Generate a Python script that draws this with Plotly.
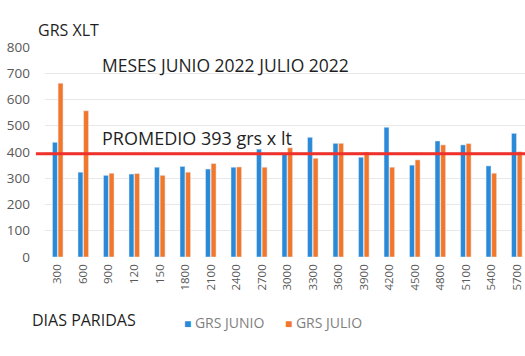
import plotly.graph_objects as go

categories = ["300", "600", "900", "120", "150", "1800", "2100", "2400", "2700", "3000",
              "3300", "3600", "3900", "4200", "4500", "4800", "5100", "5400", "5700"]
grs_junio = [437, 323, 311, 316, 342, 345, 335, 342, 411, 395,
             456, 433, 380, 494, 350, 442, 427, 347, 471]
grs_julio = [662, 557, 319, 318, 311, 323, 356, 343, 342, 416,
             376, 433, 400, 342, 370, 427, 432, 319, 401]
promedio = 393
y_ticks = [0, 100, 200, 300, 400, 500, 600, 700, 800]
series_names = ["GRS JUNIO", "GRS JULIO"]

BLUE = "#2A8AD8"
ORANGE = "#F3772B"
FONT = "Open Sans"
DARK = "#1F1F1F"

fig = go.Figure()
fig.add_trace(go.Bar(x=categories, y=grs_junio, name=series_names[0], marker_color=BLUE))
fig.add_trace(go.Bar(x=categories, y=grs_julio, name=series_names[1], marker_color=ORANGE))

fig.add_shape(type="line", xref="paper", yref="y", x0=-0.019, x1=1.0, y0=promedio, y1=promedio,
              line=dict(color="#F0302A", width=3), layer="above")

fig.add_annotation(text="GRS XLT", xref="paper", yref="paper", x=-0.019, y=1.081,
                   xanchor="left", yanchor="middle", showarrow=False,
                   font=dict(family=FONT, size=16, color=DARK))
fig.add_annotation(text="MESES JUNIO 2022 JULIO 2022", xref="paper", yref="paper", x=0.114, y=0.914,
                   xanchor="left", yanchor="middle", showarrow=False,
                   font=dict(family=FONT, size=17.5, color=DARK))
fig.add_annotation(text="PROMEDIO 393 grs x lt", xref="paper", yref="paper", x=0.114, y=0.567,
                   xanchor="left", yanchor="middle", showarrow=False,
                   font=dict(family=FONT, size=18, color=DARK))
fig.add_annotation(text="DIAS PARIDAS", xref="paper", yref="paper", x=-0.031, y=-0.30,
                   xanchor="left", yanchor="middle", showarrow=False,
                   font=dict(family=FONT, size=16, color=DARK))

# legend entries
for name, color, xpos in [(series_names[0], BLUE, 0.285), (series_names[1], ORANGE, 0.495)]:
    fig.add_annotation(text=f"<span style='color:{color};font-size:12px'>■</span> {name}",
                       xref="paper", yref="paper", x=xpos, y=-0.314,
                       xanchor="left", yanchor="middle", showarrow=False,
                       font=dict(family=FONT, size=14, color="#7F7F7F"))

fig.update_layout(
    width=525, height=356,
    margin=dict(l=45, r=0, t=47, b=99, autoexpand=False),
    paper_bgcolor="white", plot_bgcolor="white",
    barmode="group", bargap=0.56, bargroupgap=0.12,
    font=dict(family=FONT, color="#595959"),
    showlegend=False,
    xaxis=dict(type="category", range=[-0.5, 18.32], tickangle=-90, automargin=False,
               tickfont=dict(family=FONT, size=11.5, color="#595959"), ticklabelstandoff=4,
               showgrid=False, showline=False, ticks=""),
    yaxis=dict(range=[0, 800], tickvals=y_ticks, showgrid=True, gridcolor="#E8E8E8",
               gridwidth=1, zeroline=False, ticks="", showline=False, automargin=False,
               ticklabelstandoff=14,
               tickfont=dict(family=FONT, size=13.5, color="#595959")),
)

fig.write_html("out.html", config={"displayModeBar": False},
               post_script="document.body.style.margin='0';")
